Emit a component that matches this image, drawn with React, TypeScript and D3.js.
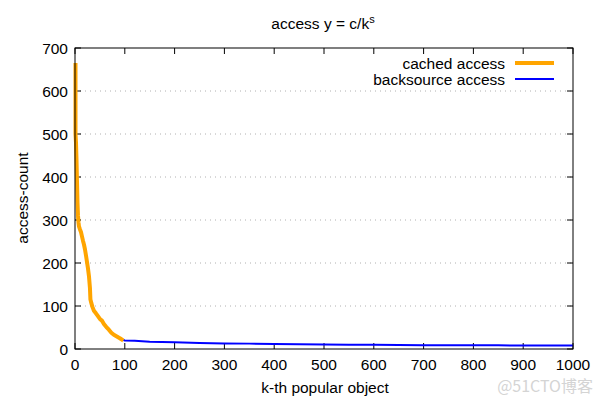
import React from "react";
import * as d3 from "d3";

const xTicks = [0, 100, 200, 300, 400, 500, 600, 700, 800, 900, 1000];
const yTicks = [0, 100, 200, 300, 400, 500, 600, 700];

const cachedK = [1, 1, 2, 3, 4, 5, 6, 7, 8, 10, 12, 14, 16, 18, 20, 22, 24, 26, 28, 30, 31, 33, 35, 38, 42, 45, 50, 54, 58, 63, 68, 73, 78, 84, 90, 94, 97];
const cachedV = [665, 500, 480, 440, 390, 340, 310, 295, 285, 278, 272, 262, 252, 243, 232, 218, 203, 188, 170, 142, 115, 106, 98, 89, 83, 78, 70, 66, 58, 51, 45, 38, 33, 29, 25, 22, 20];

const backK = [97, 100, 120, 150, 200, 250, 300, 350, 400, 450, 500, 550, 600, 650, 700, 750, 800, 850, 900, 950, 1000];
const backV = [21, 20, 19, 17, 15.5, 14, 13, 12.5, 11.5, 11, 10.5, 10, 10, 9.5, 9, 9, 8.5, 8.5, 8, 8, 8];

const seriesNames = ["cached access", "backsource access"];

export default function App() {
  const W = 600, H = 400;
  const left = 75, right = 573, top = 48, bottom = 349;
  const x = d3.scaleLinear().domain([0, 1000]).range([left, right]);
  const y = d3.scaleLinear().domain([0, 700]).range([bottom, top]);
  const line = d3.line<[number, number]>().x(d => x(d[0])).y(d => y(d[1]));
  const cached = cachedK.map((k, i) => [k, cachedV[i]] as [number, number]);
  const back = backK.map((k, i) => [k, backV[i]] as [number, number]);
  const font = "'Liberation Sans', Arial, sans-serif";
  const tl = 6;
  const fs = 15.5;
  return (
    <svg width={W} height={H} style={{ position: "absolute", left: 0, top: 0, background: "#fff" }} fontFamily={font}>
      {yTicks.filter(t => t > 0 && t < 700).map(t => (
        <line key={"g" + t} x1={left} x2={right} y1={y(t)} y2={y(t)} stroke="#b0b0b0" strokeWidth={1} strokeDasharray="1,4" />
      ))}
      {xTicks.map(t => (
        <g key={"xt" + t}>
          <line x1={x(t)} x2={x(t)} y1={bottom} y2={bottom - tl} stroke="#000" />
          <line x1={x(t)} x2={x(t)} y1={top} y2={top + tl} stroke="#000" />
          <text x={x(t)} y={370} textAnchor="middle" fontSize={fs} fill="#000">{t}</text>
        </g>
      ))}
      {yTicks.map(t => (
        <g key={"yt" + t}>
          <line x1={left} x2={left + tl} y1={y(t)} y2={y(t)} stroke="#000" />
          <line x1={right} x2={right - tl} y1={y(t)} y2={y(t)} stroke="#000" />
          <text x={68} y={y(t) + 5.5} textAnchor="end" fontSize={fs} fill="#000">{t}</text>
        </g>
      ))}
      <path d={line(back) || ""} fill="none" stroke="#0000ff" strokeWidth={2} />
      <path d={line(cached) || ""} fill="none" stroke="#ffa500" strokeWidth={4} strokeLinejoin="round" />
      <rect x={left} y={top} width={right - left} height={bottom - top} fill="none" stroke="#000" strokeWidth={1} />
      <text x={505} y={68.5} textAnchor="end" fontSize={fs} fill="#000">{seriesNames[0]}</text>
      <line x1={515} x2={554} y1={63} y2={63} stroke="#ffa500" strokeWidth={4} />
      <text x={505} y={84.5} textAnchor="end" fontSize={fs} fill="#000">{seriesNames[1]}</text>
      <line x1={515} x2={554} y1={79} y2={79} stroke="#0000ff" strokeWidth={2} />
      <text x={323} y={29} textAnchor="middle" fontSize={fs} fill="#000">
        access y = c/k<tspan dy={-6} fontSize={11}>s</tspan>
      </text>
      <text x={325} y={393} textAnchor="middle" fontSize={fs} fill="#000">k-th popular object</text>
      <text transform={`translate(28,198) rotate(-90)`} textAnchor="middle" fontSize={fs} fill="#000">access-count</text>
      <text x={593} y={392} textAnchor="end" fontSize={16} fill="#d4d4d4" fontFamily="'Noto Sans CJK SC', sans-serif">@51CTO博客</text>
    </svg>
  );
}
